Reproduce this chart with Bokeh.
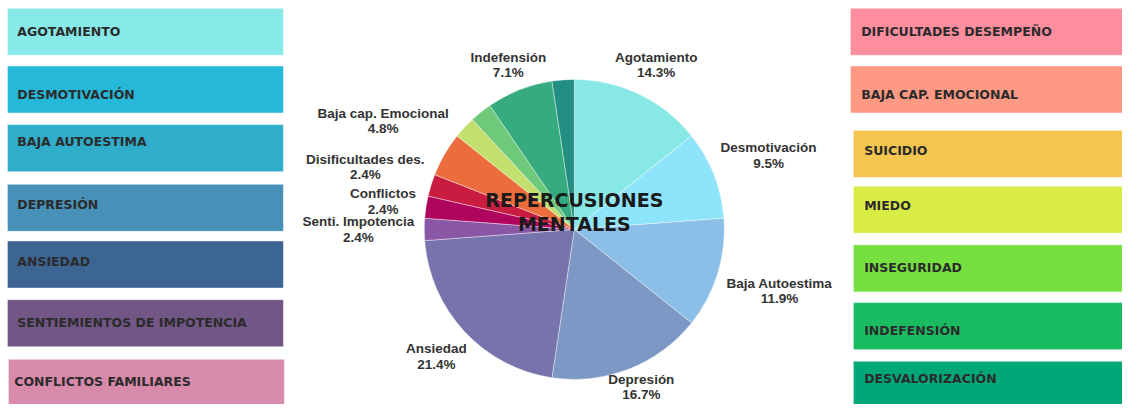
import math
from bokeh.plotting import figure
from bokeh.models import ColumnDataSource, Range1d
from bokeh.core.properties import value
from bokeh.embed import file_html
from bokeh.resources import INLINE

# ---------------- data ----------------
slice_names = ["Agotamiento", "Desmotivación", "Baja Autoestima", "Depresión", "Ansiedad",
               "Senti. Impotencia", "Conflictos", "Disificultades des.", "Baja cap. Emocional",
               "Suicidio", "Miedo", "Indefensión", "Desvalorización"]
slice_counts = [6, 4, 5, 7, 9, 1, 1, 1, 2, 1, 1, 3, 1]
slice_colors = ["#87e8e5", "#8ee4fb", "#8cbfe8", "#7e98c5", "#7774ad",
                "#8a57a6", "#b0055e", "#c81c41", "#eb6c3d",
                "#c3df6e", "#6fc97a", "#36ab7d", "#238e82"]
slice_labeled = [True, True, True, True, True, True, True, True, True, False, False, True, False]

left_items = ["AGOTAMIENTO", "DESMOTIVACIÓN", "BAJA AUTOESTIMA", "DEPRESIÓN", "ANSIEDAD",
              "SENTIEMIENTOS DE IMPOTENCIA", "CONFLICTOS FAMILIARES"]
left_colors = ["#88eae8", "#26b8d8", "#2fadca", "#4790b8", "#3d6593", "#715686", "#d88aab"]
right_items = ["DIFICULTADES DESEMPEÑO", "BAJA CAP. EMOCIONAL", "SUICIDIO", "MIEDO",
               "INSEGURIDAD", "INDEFENSIÓN", "DESVALORIZACIÓN"]
right_colors = ["#fe8d9e", "#fe9a84", "#f4c650", "#d9ec46", "#75e040", "#1abc62", "#00a878"]

title_lines = ["REPERCUSIONES", "MENTALES"]

# ---------------- layout (pixel coords of the 1138x420 reference) ----------------
W, H = 1122, 404
cx, cy, R = 582, 238, 150

lab_x = [665, 779, 790, 650, 442, 363, 388, 370, 388, 0, 0, 515, 0]
lab_y = [59, 153, 294, 394, 362, 230, 201, 165, 117, 0, 0, 59, 0]

left_box_top = [8, 68, 129, 191, 250, 311, 373]
left_box_x0 = [7, 7, 7, 7, 7, 7, 8]
left_text_y = [32, 98, 147, 212, 271, 335, 396]
left_text_x = [17, 17, 17, 17, 17, 17, 14]

right_box_top = [8, 68, 135, 193, 254, 314, 375]
right_box_x0 = [862, 862, 865, 865, 865, 865, 865]
right_text_y = [32, 98, 156, 213, 278, 343, 393]
right_text_x = [873, 873, 876, 876, 876, 876, 876]
box_h = 49

p = figure(width=W, height=H, output_backend="svg", toolbar_location=None,
           x_range=Range1d(0, 1138), y_range=Range1d(-420, 0), min_border=0)
p.axis.visible = False
p.grid.visible = False
p.outline_line_color = None
p.background_fill_color = "white"

# ---------------- legend boxes ----------------
lsrc = ColumnDataSource(dict(
    left=left_box_x0, right=[x + 280 for x in left_box_x0],
    top=[-t for t in left_box_top], bottom=[-(t + box_h) for t in left_box_top],
    color=left_colors))
p.quad(left="left", right="right", top="top", bottom="bottom", fill_color="color",
       line_color="white", line_alpha=0.5, line_width=1, source=lsrc)
rsrc = ColumnDataSource(dict(
    left=right_box_x0, right=[1145] * len(right_box_x0),
    top=[-t for t in right_box_top], bottom=[-(t + box_h) for t in right_box_top],
    color=right_colors))
p.quad(left="left", right="right", top="top", bottom="bottom", fill_color="color",
       line_color="white", line_alpha=0.5, line_width=1, source=rsrc)

for xs, ys, txt in [(left_text_x, left_text_y, left_items), (right_text_x, right_text_y, right_items)]:
    p.text(x=xs, y=[-y for y in ys], text=txt,
           text_font=value("DejaVu Sans"), text_font_style="bold", text_font_size="12.5px",
           text_color="#2b2b2b", text_baseline="middle", text_align="left")

# ---------------- pie ----------------
total = sum(slice_counts)
starts, ends = [], []
acc = 0
for c in slice_counts:
    starts.append(math.pi / 2 - 2 * math.pi * acc / total)
    acc += c
    ends.append(math.pi / 2 - 2 * math.pi * acc / total)
wsrc = ColumnDataSource(dict(x=[cx] * len(slice_counts), y=[-cy] * len(slice_counts),
                             start=starts, end=ends, color=slice_colors))
p.wedge(x="x", y="y", radius=R, radius_units="screen", start_angle="start", end_angle="end",
        direction="clock", fill_color="color", line_color="white", line_alpha=0.5,
        line_width=0.8, source=wsrc)

names = [n for n, s in zip(slice_names, slice_labeled) if s]
pcts = [f"{c / total * 100:.1f}%" for c, s in zip(slice_counts, slice_labeled) if s]
lx = [x for x, s in zip(lab_x, slice_labeled) if s]
ly = [y for y, s in zip(lab_y, slice_labeled) if s]
p.text(x=lx, y=[-y for y in ly], text=names, text_font=value("Liberation Sans"),
       text_font_style="bold", text_font_size="13.5px", text_color="#333333",
       text_baseline="middle", text_align="center")
p.text(x=lx, y=[-(y + 16) for y in ly], text=pcts, text_font=value("Liberation Sans"),
       text_font_style="bold", text_font_size="13.5px", text_color="#333333",
       text_baseline="middle", text_align="center")

# ---------------- centre title ----------------
p.text(x=[cx, cx], y=[-207, -232], text=title_lines, text_font=value("DejaVu Sans"),
       text_font_style="bold", text_font_size="19px", text_color="#1a1a1a",
       text_baseline="middle", text_align="center")

open("out.html", "w").write(file_html(p, INLINE))
